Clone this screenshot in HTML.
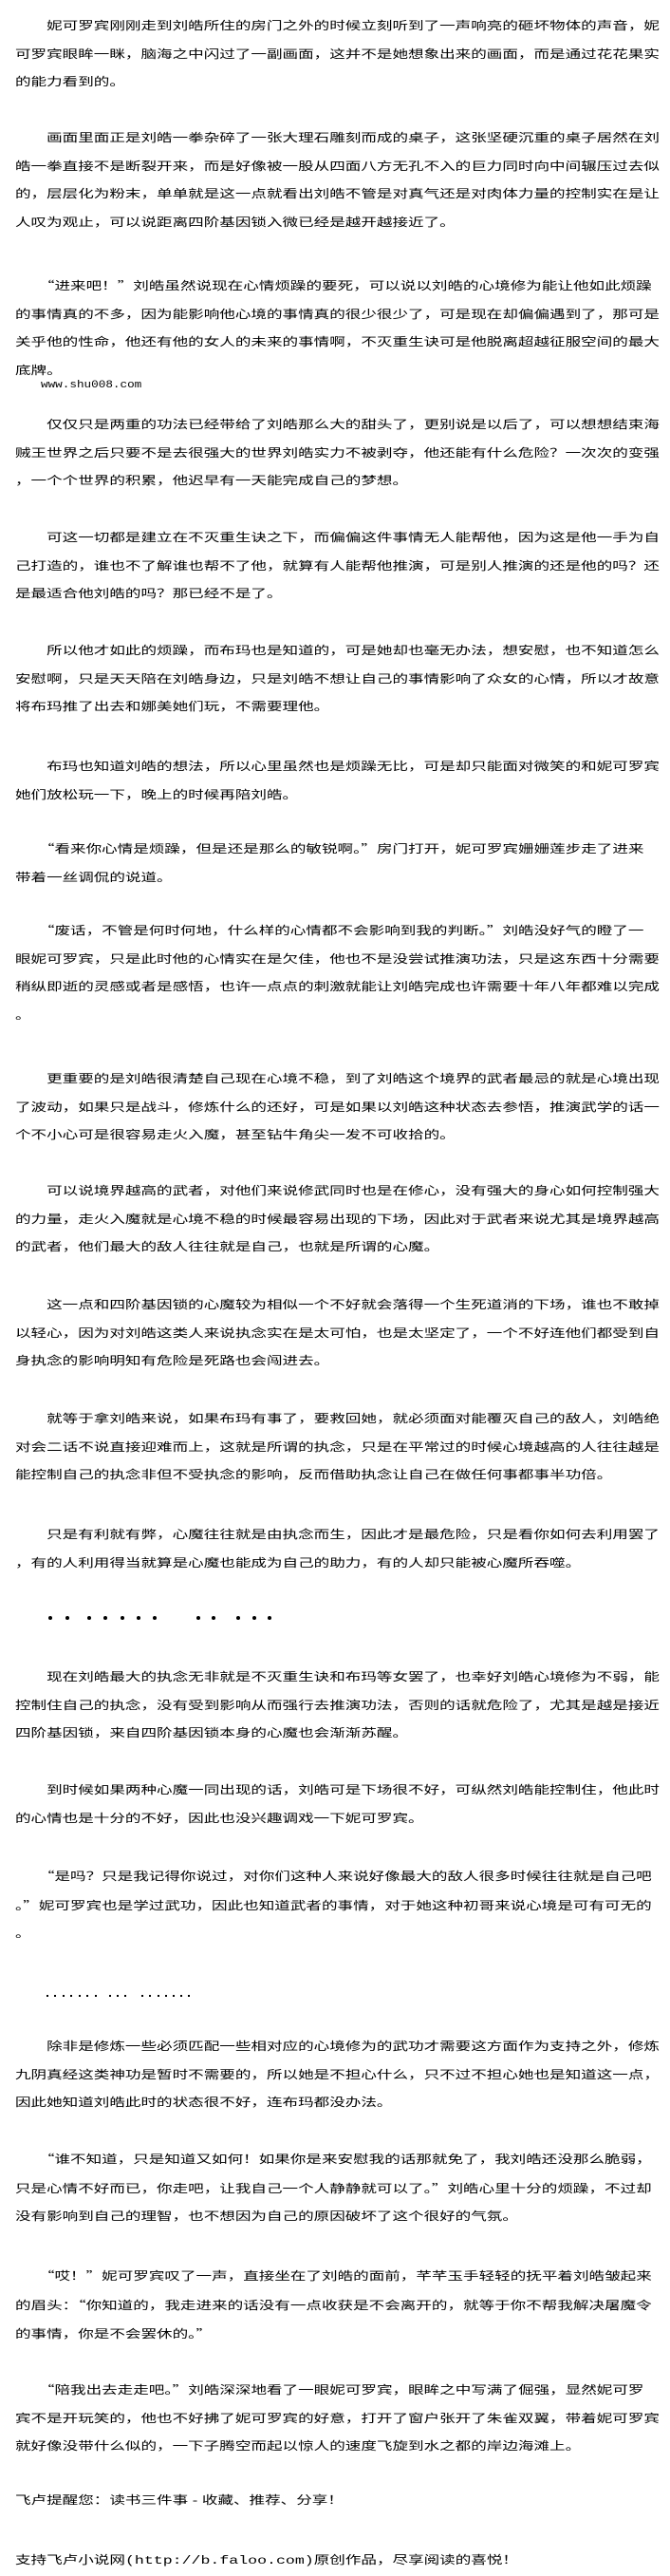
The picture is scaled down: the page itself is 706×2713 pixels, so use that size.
<!DOCTYPE html>
<html><head><meta charset="utf-8">
<style>
html,body{margin:0;padding:0;background:#fff;}
body{width:706px;height:2713px;position:relative;overflow:hidden;}
.p{position:absolute;left:16px;font-family:"Liberation Sans","Noto Sans CJK SC",sans-serif;font-size:12px;line-height:29.5px;color:#000;white-space:pre;transform:scaleX(1.38);transform-origin:0 0;}
.q{font-family:"Noto Sans CJK SC",sans-serif;}
.www{position:absolute;left:43px;top:400px;font-family:"Liberation Mono",monospace;font-size:11px;color:#000;transform:scaleX(1.15);transform-origin:0 0;}
.d{position:absolute;width:4px;height:4px;border-radius:2px;background:#000;}
.s{position:absolute;width:2px;height:2px;background:#000;}
.m{font-family:"Liberation Mono",monospace;}
</style></head><body>

<div class="p" style="top:13px">　　妮可罗宾刚刚走到刘皓所住的房门之外的时候立刻听到了一声响亮的砸坏物体的声音，妮
可罗宾眼眸一眯，脑海之中闪过了一副画面，这并不是她想象出来的画面，而是通过花花果实
的能力看到的。</div>

<div class="p" style="top:131px">　　画面里面正是刘皓一拳杂碎了一张大理石雕刻而成的桌子，这张坚硬沉重的桌子居然在刘
皓一拳直接不是断裂开来，而是好像被一股从四面八方无孔不入的巨力同时向中间辗压过去似
的，层层化为粉末，单单就是这一点就看出刘皓不管是对真气还是对肉体力量的控制实在是让
人叹为观止，可以说距离四阶基因锁入微已经是越开越接近了。</div>

<div class="p" style="top:286px">　　<span class="q">“</span>进来吧！<span class="q">”</span>刘皓虽然说现在心情烦躁的要死，可以说以刘皓的心境修为能让他如此烦躁
的事情真的不多，因为能影响他心境的事情真的很少很少了，可是现在却偏偏遇到了，那可是
关乎他的性命，他还有他的女人的未来的事情啊，不灭重生诀可是他脱离超越征服空间的最大
底牌。</div>

<div class="www">www.shu008.com</div>

<div class="p" style="top:433px">　　仅仅只是两重的功法已经带给了刘皓那么大的甜头了，更别说是以后了，可以想想结束海
贼王世界之后只要不是去很强大的世界刘皓实力不被剥夺，他还能有什么危险？一次次的变强
，一个个世界的积累，他迟早有一天能完成自己的梦想。</div>

<div class="p" style="top:552px">　　可这一切都是建立在不灭重生诀之下，而偏偏这件事情无人能帮他，因为这是他一手为自
己打造的，谁也不了解谁也帮不了他，就算有人能帮他推演，可是别人推演的还是他的吗？还
是最适合他刘皓的吗？那已经不是了。</div>

<div class="p" style="top:671px">　　所以他才如此的烦躁，而布玛也是知道的，可是她却也毫无办法，想安慰，也不知道怎么
安慰啊，只是天天陪在刘皓身边，只是刘皓不想让自己的事情影响了众女的心情，所以才故意
将布玛推了出去和娜美她们玩，不需要理他。</div>

<div class="p" style="top:793px">　　布玛也知道刘皓的想法，所以心里虽然也是烦躁无比，可是却只能面对微笑的和妮可罗宾
她们放松玩一下，晚上的时候再陪刘皓。</div>

<div class="p" style="top:879px">　　<span class="q">“</span>看来你心情是烦躁，但是还是那么的敏锐啊。<span class="q">”</span>房门打开，妮可罗宾姗姗莲步走了进来
带着一丝调侃的说道。</div>

<div class="p" style="top:965px">　　<span class="q">“</span>废话，不管是何时何地，什么样的心情都不会影响到我的判断。<span class="q">”</span>刘皓没好气的瞪了一
眼妮可罗宾，只是此时他的心情实在是欠佳，他也不是没尝试推演功法，只是这东西十分需要
稍纵即逝的灵感或者是感悟，也许一点点的刺激就能让刘皓完成也许需要十年八年都难以完成
。</div>

<div class="p" style="top:1122px">　　更重要的是刘皓很清楚自己现在心境不稳，到了刘皓这个境界的武者最忌的就是心境出现
了波动，如果只是战斗，修炼什么的还好，可是如果以刘皓这种状态去参悟，推演武学的话一
个不小心可是很容易走火入魔，甚至钻牛角尖一发不可收拾的。</div>

<div class="p" style="top:1240px">　　可以说境界越高的武者，对他们来说修武同时也是在修心，没有强大的身心如何控制强大
的力量，走火入魔就是心境不稳的时候最容易出现的下场，因此对于武者来说尤其是境界越高
的武者，他们最大的敌人往往就是自己，也就是所谓的心魔。</div>

<div class="p" style="top:1360px">　　这一点和四阶基因锁的心魔较为相似一个不好就会落得一个生死道消的下场，谁也不敢掉
以轻心，因为对刘皓这类人来说执念实在是太可怕，也是太坚定了，一个不好连他们都受到自
身执念的影响明知有危险是死路也会闯进去。</div>

<div class="p" style="top:1480px">　　就等于拿刘皓来说，如果布玛有事了，要救回她，就必须面对能覆灭自己的敌人，刘皓绝
对会二话不说直接迎难而上，这就是所谓的执念，只是在平常过的时候心境越高的人往往越是
能控制自己的执念非但不受执念的影响，反而借助执念让自己在做任何事都事半功倍。</div>

<div class="p" style="top:1602px">　　只是有利就有弊，心魔往往就是由执念而生，因此才是最危险，只是看你如何去利用罢了
，有的人利用得当就算是心魔也能成为自己的助力，有的人却只能被心魔所吞噬。</div>

<div class="d" style="left:51px;top:1702px"></div>
<div class="d" style="left:69px;top:1702px"></div>
<div class="d" style="left:92px;top:1702px"></div>
<div class="d" style="left:109px;top:1702px"></div>
<div class="d" style="left:127px;top:1702px"></div>
<div class="d" style="left:144px;top:1702px"></div>
<div class="d" style="left:161px;top:1702px"></div>
<div class="d" style="left:207px;top:1702px"></div>
<div class="d" style="left:223px;top:1702px"></div>
<div class="d" style="left:249px;top:1702px"></div>
<div class="d" style="left:266px;top:1702px"></div>
<div class="d" style="left:282px;top:1702px"></div>

<div class="p" style="top:1752px">　　现在刘皓最大的执念无非就是不灭重生诀和布玛等女罢了，也幸好刘皓心境修为不弱，能
控制住自己的执念，没有受到影响从而强行去推演功法，否则的话就危险了，尤其是越是接近
四阶基因锁，来自四阶基因锁本身的心魔也会渐渐苏醒。</div>

<div class="p" style="top:1871px">　　到时候如果两种心魔一同出现的话，刘皓可是下场很不好，可纵然刘皓能控制住，他此时
的心情也是十分的不好，因此也没兴趣调戏一下妮可罗宾。</div>

<div class="p" style="top:1961px">　　<span class="q">“</span>是吗？只是我记得你说过，对你们这种人来说好像最大的敌人很多时候往往就是自己吧
。<span class="q">”</span>妮可罗宾也是学过武功，因此也知道武者的事情，对于她这种初哥来说心境是可有可无的
。</div>

<div class="s" style="left:49px;top:2101px"></div>
<div class="s" style="left:57px;top:2101px"></div>
<div class="s" style="left:66px;top:2101px"></div>
<div class="s" style="left:74px;top:2101px"></div>
<div class="s" style="left:83px;top:2101px"></div>
<div class="s" style="left:91px;top:2101px"></div>
<div class="s" style="left:100px;top:2101px"></div>
<div class="s" style="left:115px;top:2101px"></div>
<div class="s" style="left:123px;top:2101px"></div>
<div class="s" style="left:131px;top:2101px"></div>
<div class="s" style="left:149px;top:2101px"></div>
<div class="s" style="left:157px;top:2101px"></div>
<div class="s" style="left:166px;top:2101px"></div>
<div class="s" style="left:174px;top:2101px"></div>
<div class="s" style="left:182px;top:2101px"></div>
<div class="s" style="left:190px;top:2101px"></div>
<div class="s" style="left:198px;top:2101px"></div>

<div class="p" style="top:2141px">　　除非是修炼一些必须匹配一些相对应的心境修为的武功才需要这方面作为支持之外，修炼
九阴真经这类神功是暂时不需要的，所以她是不担心什么，只不过不担心她也是知道这一点，
因此她知道刘皓此时的状态很不好，连布玛都没办法。</div>

<div class="p" style="top:2259px">　　<span class="q">“</span>谁不知道，只是知道又如何！如果你是来安慰我的话那就免了，我刘皓还没那么脆弱，
只是心情不好而已，你走吧，让我自己一个人静静就可以了。<span class="q">”</span>刘皓心里十分的烦躁，不过却
没有影响到自己的理智，也不想因为自己的原因破坏了这个很好的气氛。</div>

<div class="p" style="top:2382px">　　<span class="q">“</span>哎！<span class="q">”</span>妮可罗宾叹了一声，直接坐在了刘皓的面前，芊芊玉手轻轻的抚平着刘皓皱起来
的眉头：<span class="q">“</span>你知道的，我走进来的话没有一点收获是不会离开的，就等于你不帮我解决屠魔令
的事情，你是不会罢休的。<span class="q">”</span></div>

<div class="p" style="top:2502px">　　<span class="q">“</span>陪我出去走走吧。<span class="q">”</span>刘皓深深地看了一眼妮可罗宾，眼眸之中写满了倔强，显然妮可罗
宾不是开玩笑的，他也不好拂了妮可罗宾的好意，打开了窗户张开了朱雀双翼，带着妮可罗宾
就好像没带什么似的，一下子腾空而起以惊人的速度飞旋到水之都的岸边海滩上。</div>

<div class="p" style="top:2619px">飞卢提醒您：读书三件事 - 收藏、推荐、分享！</div>

<div class="p" style="top:2682px">支持飞卢小说网<span class="m">(http://b.faloo.com)</span>原创作品，尽享阅读的喜悦！</div>

</body></html>
